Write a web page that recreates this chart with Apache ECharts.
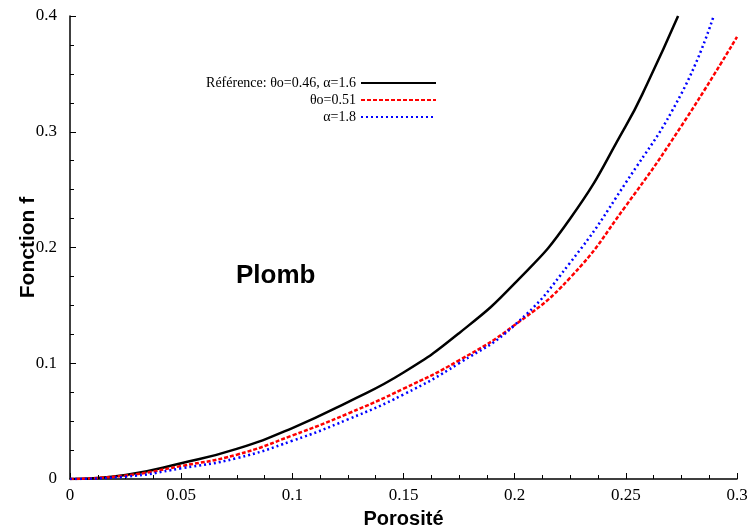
<!DOCTYPE html>
<html>
<head>
<meta charset="UTF-8">
<title>Fonction f - Plomb</title>
<script src="https://cdn.jsdelivr.net/npm/echarts@6/dist/echarts.min.js"></script>
</head>
<body style="margin:0;background:#fff;">
<div id="chart" style="width:747px;height:530px;"></div>
<script>
// valeurs
var refX = [0, 0.025, 0.05, 0.075, 0.1, 0.125, 0.15, 0.175, 0.2, 0.225, 0.25, 0.26, 0.2735];
var refY = [0, 0.0035, 0.0136, 0.026, 0.044, 0.0665, 0.092, 0.126, 0.169, 0.225, 0.305, 0.343, 0.4];

var thetaX = [0, 0.025, 0.05, 0.075, 0.1, 0.125, 0.15, 0.175, 0.2, 0.225, 0.25, 0.275, 0.3];
var thetaY = [0, 0.003, 0.0112, 0.021, 0.0376, 0.0565, 0.078, 0.1025, 0.133, 0.174, 0.236, 0.305, 0.382];

var alphaX = [0, 0.025, 0.05, 0.075, 0.1, 0.125, 0.15, 0.175, 0.2, 0.225, 0.25, 0.275, 0.2895];
var alphaY = [0, 0.002, 0.0092, 0.018, 0.033, 0.0515, 0.073, 0.1, 0.133, 0.187, 0.256, 0.333, 0.4];

var names = ['Référence: θo=0.46, α=1.6', 'θo=0.51', 'α=1.8'];

function pairs(xs, ys) {
    var out = [];
    for (var i = 0; i < xs.length; i++) out.push([xs[i], ys[i]]);
    return out;
}

var chart = echarts.init(document.getElementById('chart'));
var serif = 'Liberation Serif';
var sans = 'Liberation Sans';

var option = {
    animation: false,
    backgroundColor: '#fff',
    grid: { left: 70, top: 16, right: 10, bottom: 51, outerBoundsMode: 'none' },
    legend: {
        orient: 'vertical',
        right: 305,
        top: 71,
        align: 'right',
        itemWidth: 75,
        itemHeight: 14,
        itemGap: 3,
        itemStyle: { opacity: 0 },
        textStyle: { fontFamily: serif, fontSize: 14, color: '#000' },
        data: names
    },
    xAxis: {
        type: 'value',
        min: 0, max: 0.3, interval: 0.05,
        name: 'Porosité',
        nameLocation: 'middle',
        nameGap: 30,
        nameMoveOverlap: false,
        nameTextStyle: { fontFamily: sans, fontWeight: 'bold', fontSize: 20, color: '#000' },
        axisLine: { lineStyle: { color: '#000', width: 1.5 } },
        axisTick: { inside: true, length: 6, lineStyle: { color: '#000', width: 1 } },
        minorTick: { show: true, splitNumber: 4, length: 4, lineStyle: { color: '#000', width: 1 } },
        axisLabel: { fontFamily: serif, fontSize: 17, color: '#000', margin: 8,
            formatter: function (v) { return +v.toFixed(2) + ''; } },
        splitLine: { show: false }
    },
    yAxis: {
        type: 'value',
        min: 0, max: 0.4, interval: 0.1,
        name: 'Fonction f',
        nameLocation: 'middle',
        nameGap: 31,
        nameMoveOverlap: false,
        nameTextStyle: { fontFamily: sans, fontWeight: 'bold', fontSize: 21, color: '#000' },
        axisLine: { show: true, lineStyle: { color: '#000', width: 1.5 } },
        axisTick: { show: true, inside: true, length: 6, lineStyle: { color: '#000', width: 1 } },
        minorTick: { show: true, splitNumber: 4, length: 4, lineStyle: { color: '#000', width: 1 } },
        axisLabel: { fontFamily: serif, fontSize: 17, color: '#000', margin: 13,
            formatter: function (v) { return +v.toFixed(1) + ''; } },
        splitLine: { show: false }
    },
    graphic: [{
        type: 'text',
        left: 236, top: 263,
        style: { text: 'Plomb', font: 'bold 26px "Liberation Sans"', fill: '#000' }
    }],
    series: [
        {
            name: names[0], type: 'line', smooth: true, symbol: 'none',
            data: pairs(refX, refY),
            lineStyle: { color: '#000', width: 2.5, type: 'solid' },
            itemStyle: { color: '#000' }
        },
        {
            name: names[1], type: 'line', smooth: true, symbol: 'none',
            data: pairs(thetaX, thetaY),
            lineStyle: { color: '#ff0000', width: 2.5, type: [4, 2] },
            itemStyle: { color: '#ff0000' }
        },
        {
            name: names[2], type: 'line', smooth: true, symbol: 'none',
            data: pairs(alphaX, alphaY),
            lineStyle: { color: '#0000ff', width: 2.5, type: [2, 3] },
            itemStyle: { color: '#0000ff' }
        }
    ]
};
chart.setOption(option);
</script>
</body>
</html>
